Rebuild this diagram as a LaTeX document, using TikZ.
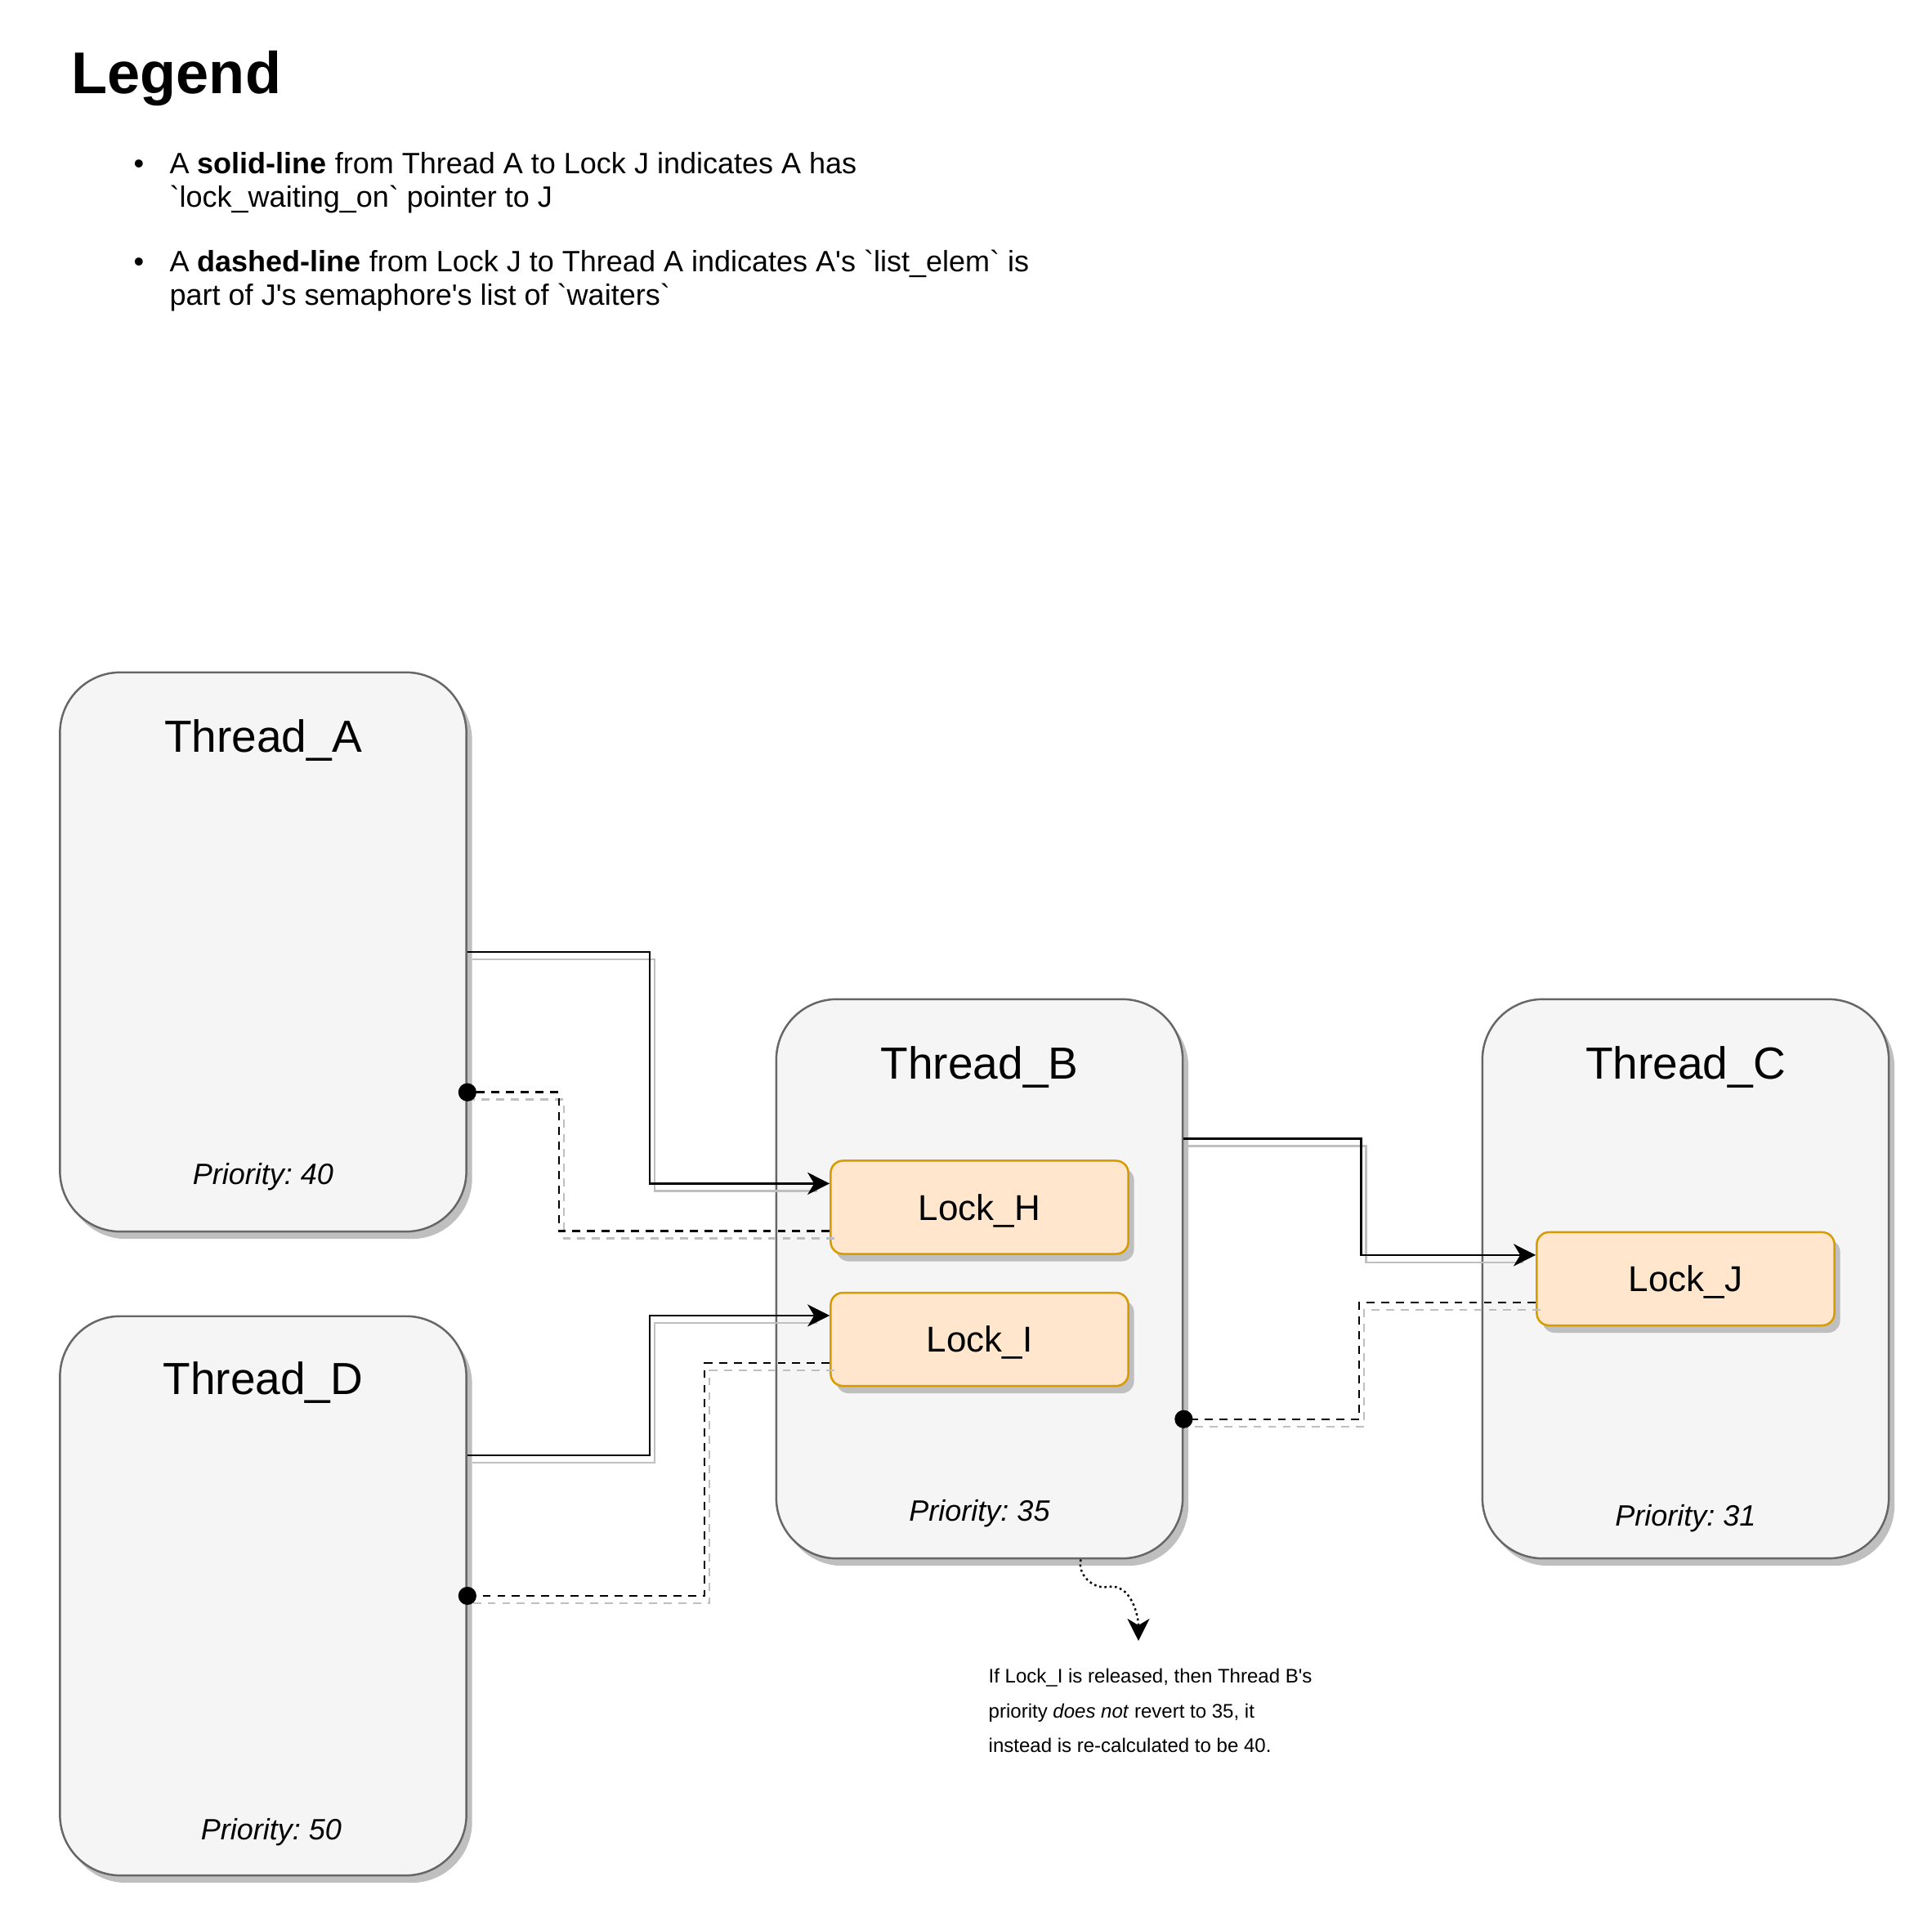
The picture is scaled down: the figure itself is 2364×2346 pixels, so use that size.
\documentclass[tikz,border=0pt]{standalone}
\usepackage{fontspec}
\setmainfont{Liberation Sans}
\usetikzlibrary{positioning,calc,arrows.meta,shadows}

\definecolor{threadfill}{HTML}{F5F5F5}
\definecolor{threadline}{HTML}{666666}
\definecolor{lockfill}{HTML}{FFE6CC}
\definecolor{lockline}{HTML}{D79B00}
\definecolor{shade}{HTML}{BFBFBF}

\tikzset{
	thread/.style={draw=threadline, fill=threadfill, line width=0.7pt,
		rounded corners=0.74cm, minimum width=4.97cm, minimum height=6.84cm,
		drop shadow={shadow xshift=0.07cm, shadow yshift=-0.09cm, fill=shade, opacity=1}},
	lock/.style={draw=lockline, fill=lockfill, line width=0.7pt,
		rounded corners=0.15cm, minimum width=3.64cm, minimum height=1.14cm,
		text depth=0pt, font=\fontsize{12.5}{15}\selectfont,
		drop shadow={shadow xshift=0.07cm, shadow yshift=-0.09cm, fill=shade, opacity=1}},
	title/.style={anchor=base, font=\fontsize{15.65}{18}\selectfont},
	prio/.style={anchor=base, font=\fontsize{10.24}{12}\selectfont\itshape},
	heading/.style={anchor=base west, inner sep=0pt, font=\fontsize{20.5}{24}\selectfont\bfseries},
	item/.style={anchor=base west, inner sep=0pt, align=left, font=\fontsize{10.24}{11.67}\selectfont},
	note/.style={anchor=base west, inner sep=0pt, align=left, font=\fontsize{6.83}{11.95}\selectfont},
	link/.style={line width=0.7pt},
	dashes/.style={dash pattern=on 2.8pt off 2.3pt},
	list/.style={link, dashes, -{Circle[length=6.3pt]}, shorten >=-3.15pt},
	ghost/.style={draw=shade, transform canvas={shift={(0.06cm,-0.09cm)}}},
}

\begin{document}
\frenchspacing
\begin{tikzpicture}[x=0.01cm, y=-0.01cm, >={Stealth[length=7.7pt, width=7.7pt, inset=2.3pt]}]
	\useasboundingbox (0,0) rectangle (2364,2346);

	% legend (multi-line nodes sit on their last baseline)
	\node[heading] (legend) at (87,115) {Legend};
	\node[item, anchor=base] at (170,213) {\textbullet};
	\node[item] (solidNote) at (207,254) {A \textbf{solid-line} from Thread A to Lock J indicates A has\\\textasciigrave lock\_waiting\_on\textasciigrave{} pointer to J};
	\node[item, anchor=base] at (170,333) {\textbullet};
	\node[item] (dashNote) at (207,374) {A \textbf{dashed-line} from Lock J to Thread A indicates A\textquotesingle s \textasciigrave list\_elem\textasciigrave{} is\\part of J\textquotesingle s semaphore\textquotesingle s list of \textasciigrave waiters\textasciigrave};

	% threads
	\node[thread] (tA) at (322,1165) {};
	\node[thread, below=1.01cm of tA] (tD) {};
	\node[thread] (tB) at (1198.5,1565) {};
	\node[thread, right=3.64cm of tB] (tC) {};

	\node[title] at ($(tA.north)+(0,99)$) {Thread\_A};
	\node[title] at ($(tD.north)+(0,97)$) {Thread\_D};
	\node[title] at ($(tB.north)+(0,99)$) {Thread\_B};
	\node[title] at ($(tC.north)+(0,99)$) {Thread\_C};

	\node[prio] at ($(tA.north)+(0,628)$) {Priority: 40};
	\node[prio] at ($(tD.north)+(10,642)$) {Priority: 50};
	\node[prio] at ($(tB.north)+(0,640)$) {Priority: 35};
	\node[prio] at ($(tC.north)+(0,646)$) {Priority: 31};

	% locks
	\node[lock] (lH) at ($(tB)+(0,-87.5)$) {Lock\_H};
	\node[lock, below=0.45cm of lH] (lI) {Lock\_I};
	\node[lock] (lJ) at (tC) {Lock\_J};

	% attach points
	\coordinate (aElem) at ($(tA.north east)!0.75!(tA.south east)$);
	\coordinate (dPtr) at ($(tD.north east)!0.25!(tD.south east)$);
	\coordinate (bPtr) at ($(tB.north east)!0.25!(tB.south east)$);
	\coordinate (bElem) at ($(tB.north east)!0.75!(tB.south east)$);
	\coordinate (hPtr) at ($(lH.north west)!0.25!(lH.south west)$);
	\coordinate (hList) at ($(lH.north west)!0.75!(lH.south west)$);
	\coordinate (iPtr) at ($(lI.north west)!0.25!(lI.south west)$);
	\coordinate (iList) at ($(lI.north west)!0.75!(lI.south west)$);
	\coordinate (jPtr) at ($(lJ.north west)!0.25!(lJ.south west)$);
	\coordinate (jList) at ($(lJ.north west)!0.75!(lJ.south west)$);

	% shadows of the connectors
	\draw[link, ghost, shorten >=6pt] (tA.east) -- ++(223,0) |- (hPtr);
	\draw[link, ghost, shorten >=6pt] (dPtr) -- ++(223,0) |- (iPtr);
	\draw[link, ghost, shorten >=6pt] (bPtr) -- ++(217,0) |- (jPtr);
	\draw[link, dashes, ghost] (hList) -- ++(-331,0) |- (aElem);
	\draw[link, dashes, ghost] (iList) -- ++(-153,0) |- (tD.east);
	\draw[link, dashes, ghost] (jList) -- ++(-216,0) |- (bElem);

	% lock_waiting_on
	\draw[link, ->] (tA.east) -- ++(223,0) |- (hPtr);
	\draw[link, ->] (dPtr) -- ++(223,0) |- (iPtr);
	\draw[link, ->] (bPtr) -- ++(217,0) |- (jPtr);

	% waiters
	\draw[list] (hList) -- ++(-331,0) |- (aElem);
	\draw[list] (iList) -- ++(-153,0) |- (tD.east);
	\draw[list] (jList) -- ++(-216,0) |- (bElem);

	% note on Thread_B
	\coordinate (bNote) at ($(tB.south)+(124,0)$);
	\coordinate (noteTip) at (1393,2008);
	\draw[link, ->, dash pattern=on 0.75pt off 1.05pt] (bNote) to[out=-105, in=190] (1355,1942) to[out=10, in=90] (noteTip);
	\node[note] (ifNote) at (1209,2144) {If Lock\_I is released, then Thread B\textquotesingle s\\priority \textit{does not} revert to 35, it\\instead is re-calculated to be 40.};
\end{tikzpicture}
\end{document}
